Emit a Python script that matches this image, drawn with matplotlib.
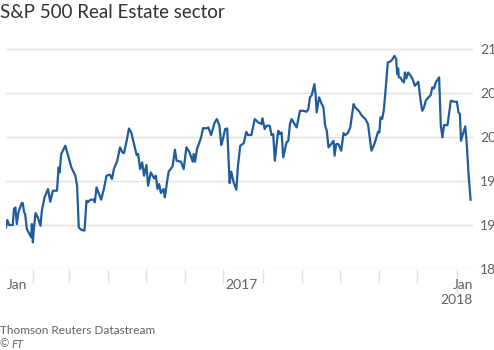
"""S&P 500 Real Estate sector, Jan 2017 - Jan 2018 (FT style line chart)."""

import matplotlib

matplotlib.use("Agg")

import matplotlib.dates as mdates
import matplotlib.pyplot as plt
import numpy as np

plt.rcParams["font.family"] = ["Lato", "DejaVu Sans"]

START = np.datetime64("2017-01-01")

# days since 2017-01-01 and index level
DAYS = [
    9.6, 10.7, 12.0, 14.9, 15.9, 17.0, 18.1, 19.4, 22.0, 22.8, 23.9, 24.7, 26.0,
    28.1, 29.4, 30.0, 30.8, 31.3, 32.9, 34.7, 36.8, 37.9, 40.0, 42.7, 44.5, 46.6,
    49.8, 51.1, 51.9, 53.2, 56.4, 59.0, 61.2, 64.3, 65.7, 67.0, 68.8, 71.5, 73.1,
    74.1, 76.2, 78.9, 79.7, 81.0, 84.7, 86.8, 88.9, 91.6, 93.2, 94.7, 97.4, 99.5,
    101.4, 102.7, 104.8, 106.6, 108.5, 110.6, 112.7, 113.8, 115.4, 117.0, 118.5,
    120.4, 121.7, 123.8, 126.5, 127.8, 129.1, 130.4, 131.8, 133.9, 134.9, 136.5,
    137.9, 141.0, 142.9, 144.2, 147.6, 149.8, 151.9, 154.2, 156.9, 157.7, 158.7,
    160.3, 163.5, 165.1, 167.5, 169.3, 171.4, 174.1, 175.9, 178.0, 179.4, 180.7,
    182.5, 184.1, 186.0, 187.3, 189.2, 191.3, 192.6, 194.4, 197.1, 199.2, 200.5,
    203.2, 205.8, 208.5, 211.1, 211.9, 213.7, 215.1, 217.7, 219.0, 220.4, 221.7,
    224.3, 225.7, 227.0, 228.3, 230.9, 232.3, 233.6, 234.9, 236.2, 238.9, 241.5,
    244.2, 246.8, 248.1, 249.4, 250.8, 252.9, 253.9, 254.7, 256.6, 258.7, 260.0,
    261.4, 262.7, 264.0, 266.1, 268.0, 268.8, 270.1, 271.9, 274.0, 275.9, 277.2,
    279.3, 281.2, 283.8, 285.1, 287.8, 290.4, 293.1, 295.2, 296.3, 297.9, 299.7,
    301.0, 303.1, 304.2, 305.0, 306.3, 307.6, 308.9, 310.8, 312.9, 314.2, 316.1,
    317.4, 318.2, 319.0, 319.5, 320.8, 322.2, 323.5, 324.3, 325.4, 326.9, 328.8,
    330.1, 332.2, 333.3, 334.9, 336.7, 338.0, 339.4, 340.7, 342.8, 344.6, 345.9,
    347.3, 348.6, 351.3, 352.6, 353.9, 355.2, 357.9, 360.5, 363.2, 365.3, 366.6,
    367.7, 368.5, 369.8, 371.9, 373.0, 374.5, 376.1,
]
LEVEL = [
    189.73, 190.57, 190.0, 190.0, 191.82, 192.0, 190.11, 191.44, 192.5, 192.5,
    191.44, 191.25, 189.55, 188.98, 188.6, 190.11, 188.03, 189.17, 191.36, 190.87,
    189.92, 191.63, 193.14, 194.09, 192.65, 193.9, 193.9, 196.55, 195.98, 198.07,
    199.02, 197.69, 196.55, 195.61, 194.47, 189.73, 189.47, 189.36, 192.77, 192.58,
    192.88, 192.88, 192.58, 194.28, 192.88, 194.09, 195.61, 195.72, 195.23, 196.36,
    197.31, 198.83, 198.26, 198.18, 199.58, 200.98, 200.45, 199.2, 197.95, 198.07,
    196.36, 197.12, 195.61, 196.82, 194.47, 195.98, 195.3, 195.61, 194.09, 194.66,
    193.64, 194.09, 193.14, 194.77, 196.06, 196.67, 198.56, 197.31, 197.2, 196.36,
    198.83, 198.33, 197.2, 198.07, 197.2, 198.64, 199.96, 201.02, 200.98, 201.1,
    200.23, 201.59, 202.05, 201.29, 199.09, 199.77, 200.91, 200.98, 194.77, 196.06,
    194.85, 194.02, 196.74, 199.02, 199.28, 200.6, 200.23, 200.23, 202.05, 201.67,
    201.48, 202.12, 200.91, 201.29, 201.29, 200.23, 200.34, 197.31, 200.72, 200.34,
    200.53, 197.69, 199.39, 199.58, 201.48, 202.05, 201.74, 201.1, 202.99, 202.99,
    202.88, 203.18, 204.51, 204.77, 206.02, 204.7, 202.8, 204.51, 203.75, 203.37,
    201.29, 200.72, 198.83, 199.2, 199.58, 197.88, 199.2, 199.2, 198.45, 200.45,
    200.23, 200.45, 201.1, 203.75, 203.37, 202.99, 202.42, 202.05, 201.48, 200.23,
    198.45, 199.02, 199.58, 200.6, 200.53, 202.24, 202.05, 202.99, 205.08, 208.49,
    208.6, 208.79, 209.24, 208.86, 207.16, 207.8, 206.78, 206.78, 206.4, 206.21,
    207.35, 206.67, 207.35, 206.97, 206.67, 205.83, 206.02, 206.29, 204.13, 202.99,
    203.37, 204.13, 204.51, 204.77, 205.64, 205.53, 206.21, 206.78, 201.29, 199.96,
    201.36, 201.36, 204.13, 204.02, 204.02, 202.8, 202.61, 199.58, 200.23, 201.21,
    199.39, 195.8, 192.88,
]
Y_TICKS = [185, 190, 195, 200, 205, 210]

GRID = "#e9e0d6"
TEXT = "#66605c"
LINE = "#1f5c9e"


def main() -> None:
    dates = START + (np.array(DAYS) * 24).astype("timedelta64[h]")

    fig = plt.figure(figsize=(4.94, 3.5), dpi=100)
    ax = fig.add_axes([6 / 494, 1 - 269 / 350, 467 / 494, 230 / 350])

    ax.plot(dates, LEVEL, color=LINE, linewidth=1.6, solid_joinstyle="round", zorder=3)

    ax.set_ylim(185, 211.15)
    ax.set_xlim(START + np.timedelta64(9 * 24 + 14, "h"), np.datetime64("2018-01-14"))

    # horizontal grid
    for val in Y_TICKS:
        ax.axhline(val, color=GRID, linewidth=1.0, zorder=1)
    ax.set_yticks(Y_TICKS)
    ax.yaxis.tick_right()
    # the labels run past the right edge and get cut, as in the original
    ax.tick_params(axis="y", length=0, pad=5, labelsize=10, labelcolor=TEXT)

    # month ticks below the axis
    months = np.arange("2017-02", "2018-02", dtype="datetime64[M]").astype("datetime64[D]")
    ax.set_xticks(months)
    ax.set_xticklabels([])
    ax.tick_params(axis="x", direction="out", length=10, width=1, color=GRID)
    ax.get_xticklines()[-2].set_markersize(18)

    for side in ("top", "right", "left", "bottom"):
        ax.spines[side].set_visible(False)

    # x labels
    num = mdates.date2num
    ax.text(num(np.datetime64("2017-01-11")), 183.2, "Jan", ha="left", va="center",
            fontsize=10, color=TEXT, clip_on=False)
    ax.text(num(np.datetime64("2017-07-15")), 183.2, "2017", ha="center", va="center",
            fontsize=10, color=TEXT, clip_on=False)
    ax.text(num(np.datetime64("2018-01-14")), 183.2, "Jan", ha="right", va="center",
            fontsize=10, color=TEXT, clip_on=False)
    ax.text(num(np.datetime64("2018-01-14")), 181.5, "2018", ha="right", va="center",
            fontsize=10, color=TEXT, clip_on=False)

    fig.text(0, 1 - 13 / 350, "S&P 500 Real Estate sector", ha="left", va="center",
             fontsize=13.5, color="#33302e")
    fig.text(0, 1 - 331 / 350, "Thomson Reuters Datastream", ha="left", va="center",
             fontsize=8.5, color=TEXT)
    fig.text(0, 1 - 344 / 350, "©", ha="left", va="center", fontsize=8, color=TEXT)
    fig.text(11 / 494, 1 - 344 / 350, "FT", ha="left", va="center", fontsize=8,
             color=TEXT, style="italic")

    fig.savefig("out.png", dpi=100, facecolor="white")
    plt.close(fig)


if __name__ == "__main__":
    main()
